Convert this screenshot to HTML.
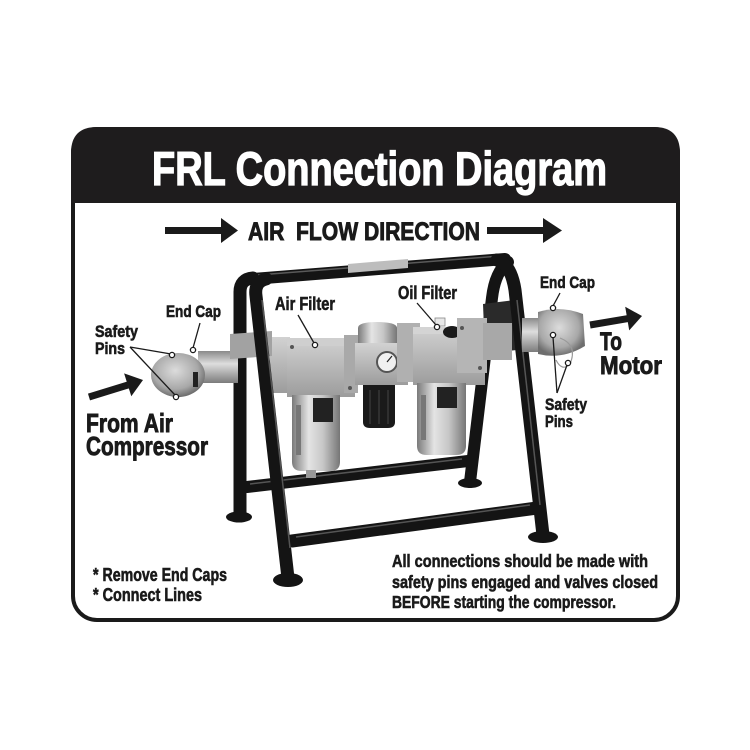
<!DOCTYPE html>
<html><head><meta charset="utf-8"><style>
html,body{margin:0;padding:0;background:#fff;}
svg{display:block;}
text{font-family:"Liberation Sans","Noto Sans CJK SC",sans-serif;font-weight:bold;fill:#1a1a1a;stroke:#1a1a1a;stroke-width:0.6px;}
text.big{stroke-width:0.9px;}
text.title{fill:#fff;stroke:#fff;stroke-width:1.3px;}
</style></head><body>
<svg width="750" height="750" viewBox="0 0 750 750" xmlns="http://www.w3.org/2000/svg">
<defs>
<linearGradient id="cyl" x1="0" y1="0" x2="1" y2="0">
<stop offset="0" stop-color="#7a7a7a"/><stop offset="0.35" stop-color="#e4e4e4"/><stop offset="0.65" stop-color="#c6c6c6"/><stop offset="1" stop-color="#767676"/>
</linearGradient>
<linearGradient id="pipe" x1="0" y1="0" x2="0" y2="1">
<stop offset="0" stop-color="#8a8a8a"/><stop offset="0.4" stop-color="#dedede"/><stop offset="1" stop-color="#7c7c7c"/>
</linearGradient>
<linearGradient id="blk" x1="0" y1="0" x2="0" y2="1">
<stop offset="0" stop-color="#d2d2d2"/><stop offset="1" stop-color="#9c9c9c"/>
</linearGradient>
<radialGradient id="cap" cx="0.45" cy="0.4" r="0.6">
<stop offset="0" stop-color="#dcdcdc"/><stop offset="0.7" stop-color="#a8a8a8"/><stop offset="1" stop-color="#6e6e6e"/>
</radialGradient>
</defs>

<!-- box -->
<rect x="73" y="129" width="605" height="491" rx="24" fill="#fff" stroke="#1a1a1a" stroke-width="4"/>
<path d="M71,203 L71,153 Q71,127 97,127 L654,127 Q680,127 680,153 L680,203 Z" fill="#1e1c1d"/>
<text class="title" x="152" y="185" font-size="47" textLength="455" lengthAdjust="spacingAndGlyphs">FRL Connection Diagram</text>

<!-- air flow -->
<rect x="165" y="227" width="58" height="7" fill="#1a1a1a"/>
<polygon points="221,218 238,230.5 221,243" fill="#1a1a1a"/>
<text class="big" x="248" y="240" font-size="25" textLength="232" lengthAdjust="spacingAndGlyphs">AIR&#160; FLOW DIRECTION</text>
<rect x="487" y="227" width="58" height="7" fill="#1a1a1a"/>
<polygon points="543,218 562,230.5 543,243" fill="#1a1a1a"/>

<!-- STAND: back parts -->
<g stroke="#141414" fill="none" stroke-linecap="round">
<line x1="247" y1="487" x2="468" y2="461" stroke-width="12"/>
<path d="M240,515 L240,292 Q240,279 253,278" stroke-width="13"/>
<path d="M470,482 L492,298 Q495,272 508,262" stroke-width="12"/>
</g>
<line x1="250" y1="484" x2="462" y2="459" stroke="#555" stroke-width="1.5"/>
<ellipse cx="239" cy="517" rx="13" ry="5.5" fill="#141414"/>
<ellipse cx="470" cy="483" rx="12" ry="5" fill="#141414"/>

<!-- top bar -->
<line x1="252" y1="279" x2="505" y2="259" stroke="#141414" stroke-width="12" stroke-linecap="round"/>
<line x1="258" y1="275" x2="500" y2="256" stroke="#5a5a5a" stroke-width="1.5"/>
<polygon points="348,264 408,259 408,268 348,273" fill="#bdbdbd"/>

<!-- right dark bracket -->
<polygon points="483,304 515,300 517,350 485,353" fill="#2a2a2a"/>

<!-- inlet coupling -->
<rect x="198" y="351" width="40" height="32" fill="url(#pipe)"/>
<ellipse cx="178" cy="375" rx="27" ry="22" fill="url(#cap)"/>
<rect x="193" y="372" width="5" height="15" fill="#222"/>

<!-- air filter -->
<rect x="270" y="337" width="20" height="56" fill="url(#blk)"/>
<rect x="287" y="338" width="68" height="59" fill="url(#blk)"/>
<rect x="287" y="338" width="68" height="8" fill="#cfcfcf"/>
<rect x="344" y="335" width="14" height="58" fill="#a9a9a9"/>
<path d="M292,395 L340,395 L340,462 Q340,471 330,471 L302,471 Q292,471 292,462 Z" fill="url(#cyl)"/>
<rect x="313" y="398" width="20" height="24" fill="#222"/>
<rect x="296" y="405" width="5" height="50" fill="#777"/>
<rect x="306" y="470" width="10" height="8" fill="#999"/>
<circle cx="292" cy="347" r="2" fill="#555"/><circle cx="350" cy="388" r="2" fill="#555"/>

<!-- regulator -->
<path d="M358,345 L358,328 Q358,322 377,322 Q397,322 397,328 L397,345 Z" fill="url(#cyl)"/>
<rect x="355" y="343" width="53" height="42" fill="url(#blk)"/>
<circle cx="387" cy="362" r="10" fill="#f0f0f0" stroke="#555" stroke-width="2"/>
<line x1="387" y1="362" x2="392" y2="356" stroke="#222" stroke-width="1.2"/>
<path d="M363,385 L395,385 L395,422 Q395,428 388,428 L370,428 Q363,428 363,422 Z" fill="#1a1a1a"/>
<line x1="370" y1="390" x2="370" y2="424" stroke="#444" stroke-width="1"/>
<line x1="379" y1="390" x2="379" y2="424" stroke="#444" stroke-width="1"/>
<line x1="388" y1="390" x2="388" y2="424" stroke="#444" stroke-width="1"/>
<rect x="397" y="323" width="23" height="59" fill="#b0b0b0"/>

<!-- oil filter -->
<rect x="413" y="327" width="72" height="58" fill="url(#blk)"/>
<rect x="413" y="327" width="72" height="7" fill="#d4d4d4"/>
<ellipse cx="452" cy="332" rx="9" ry="6" fill="#1a1a1a"/>
<rect x="435" y="318" width="10" height="8" fill="#e8e8e8" stroke="#888" stroke-width="0.8"/>
<path d="M417,383 L466,383 L466,446 Q466,455 456,455 L427,455 Q417,455 417,446 Z" fill="url(#cyl)"/>
<rect x="437" y="387" width="20" height="21" fill="#222"/>
<rect x="421" y="395" width="5" height="45" fill="#777"/>
<rect x="457" y="318" width="30" height="55" fill="#b5b5b5"/>
<rect x="483" y="323" width="29" height="37" fill="#a8a8a8"/>
<circle cx="462" cy="328" r="2" fill="#555"/><circle cx="480" cy="368" r="2" fill="#555"/>

<!-- left gray bracket -->
<polygon points="230,334 272,331 272,356 230,359" fill="#a2a2a2"/>

<!-- front legs & crossbar -->
<g stroke="#141414" fill="none" stroke-linecap="round">
<path d="M288,578 L256,296 Q254,282 266,279" stroke-width="13"/>
<path d="M543,535 L515,290 Q511,264 497,260" stroke-width="13"/>
<line x1="292" y1="541" x2="537" y2="508" stroke-width="13"/>
</g>
<line x1="262" y1="300" x2="290" y2="548" stroke="#555" stroke-width="1.5"/>
<line x1="517" y1="300" x2="540" y2="505" stroke="#555" stroke-width="1.5"/>
<line x1="296" y1="537" x2="530" y2="505" stroke="#555" stroke-width="1.5"/>
<ellipse cx="288" cy="580" rx="15" ry="7" fill="#141414"/>
<ellipse cx="543" cy="537" rx="15" ry="6" fill="#141414"/>

<!-- outlet coupling -->
<rect x="522" y="318" width="24" height="34" fill="url(#pipe)"/>
<path d="M538,312 Q560,305 583,314 L585,346 Q562,360 538,354 Z" fill="url(#cap)"/>
<path d="M560,338 Q578,345 570,364 Q562,372 556,360" fill="none" stroke="#999" stroke-width="1.2"/>

<!-- left arrow -->
<line x1="89" y1="397" x2="128" y2="385" stroke="#1a1a1a" stroke-width="7"/>
<polygon points="143,380 131.3,396.2 124.1,373.4" fill="#1a1a1a"/>
<!-- right arrow -->
<line x1="590" y1="325" x2="628" y2="318.6" stroke="#1a1a1a" stroke-width="7"/>
<polygon points="642,316 629.2,330.4 625.2,306.8" fill="#1a1a1a"/>

<!-- leaders -->
<g stroke="#1a1a1a" stroke-width="1.3" fill="#fff">
<line x1="130" y1="347" x2="171" y2="354"/>
<line x1="130" y1="347" x2="175" y2="395"/>
<line x1="200" y1="323" x2="193" y2="348"/>
<line x1="298" y1="315" x2="314" y2="343"/>
<line x1="417" y1="303" x2="436" y2="325"/>
<line x1="560" y1="293" x2="553" y2="306"/>
<line x1="557" y1="393" x2="553" y2="337"/>
<line x1="557" y1="393" x2="567" y2="365"/>
<circle cx="172" cy="355" r="2.6"/>
<circle cx="176" cy="397" r="2.6"/>
<circle cx="193" cy="350" r="2.6"/>
<circle cx="315" cy="345" r="2.6"/>
<circle cx="437" cy="327" r="2.6"/>
<circle cx="553" cy="308" r="2.6"/>
<circle cx="553" cy="335" r="2.6"/>
<circle cx="568" cy="363" r="2.6"/>
</g>

<!-- labels -->
<text x="95" y="337" font-size="17" textLength="43" lengthAdjust="spacingAndGlyphs">Safety</text>
<text x="95" y="354" font-size="17" textLength="30" lengthAdjust="spacingAndGlyphs">Pins</text>
<text x="166" y="317" font-size="17" textLength="55" lengthAdjust="spacingAndGlyphs">End Cap</text>
<text class="big" x="86" y="432" font-size="26" textLength="87" lengthAdjust="spacingAndGlyphs">From Air</text>
<text class="big" x="86" y="455" font-size="26" textLength="122" lengthAdjust="spacingAndGlyphs">Compressor</text>
<text x="275" y="310" font-size="18" textLength="60" lengthAdjust="spacingAndGlyphs">Air Filter</text>
<text x="398" y="299" font-size="18" textLength="59" lengthAdjust="spacingAndGlyphs">Oil Filter</text>
<text x="540" y="288" font-size="17" textLength="55" lengthAdjust="spacingAndGlyphs">End Cap</text>
<text class="big" x="600" y="350" font-size="25" textLength="22" lengthAdjust="spacingAndGlyphs">To</text>
<text class="big" x="600" y="374" font-size="25" textLength="62" lengthAdjust="spacingAndGlyphs">Motor</text>
<text x="545" y="410" font-size="17" textLength="42" lengthAdjust="spacingAndGlyphs">Safety</text>
<text x="545" y="427" font-size="17" textLength="28" lengthAdjust="spacingAndGlyphs">Pins</text>

<text x="93" y="581" font-size="18" textLength="134" lengthAdjust="spacingAndGlyphs">* Remove End Caps</text>
<text x="93" y="601" font-size="18" textLength="109" lengthAdjust="spacingAndGlyphs">* Connect Lines</text>
<text x="392" y="567" font-size="17.5" textLength="256" lengthAdjust="spacingAndGlyphs">All connections should be made with</text>
<text x="392" y="588" font-size="17.5" textLength="266" lengthAdjust="spacingAndGlyphs">safety pins engaged and valves closed</text>
<text x="392" y="608" font-size="17.5" textLength="224" lengthAdjust="spacingAndGlyphs">BEFORE starting the compressor.</text>
</svg>
</body></html>
